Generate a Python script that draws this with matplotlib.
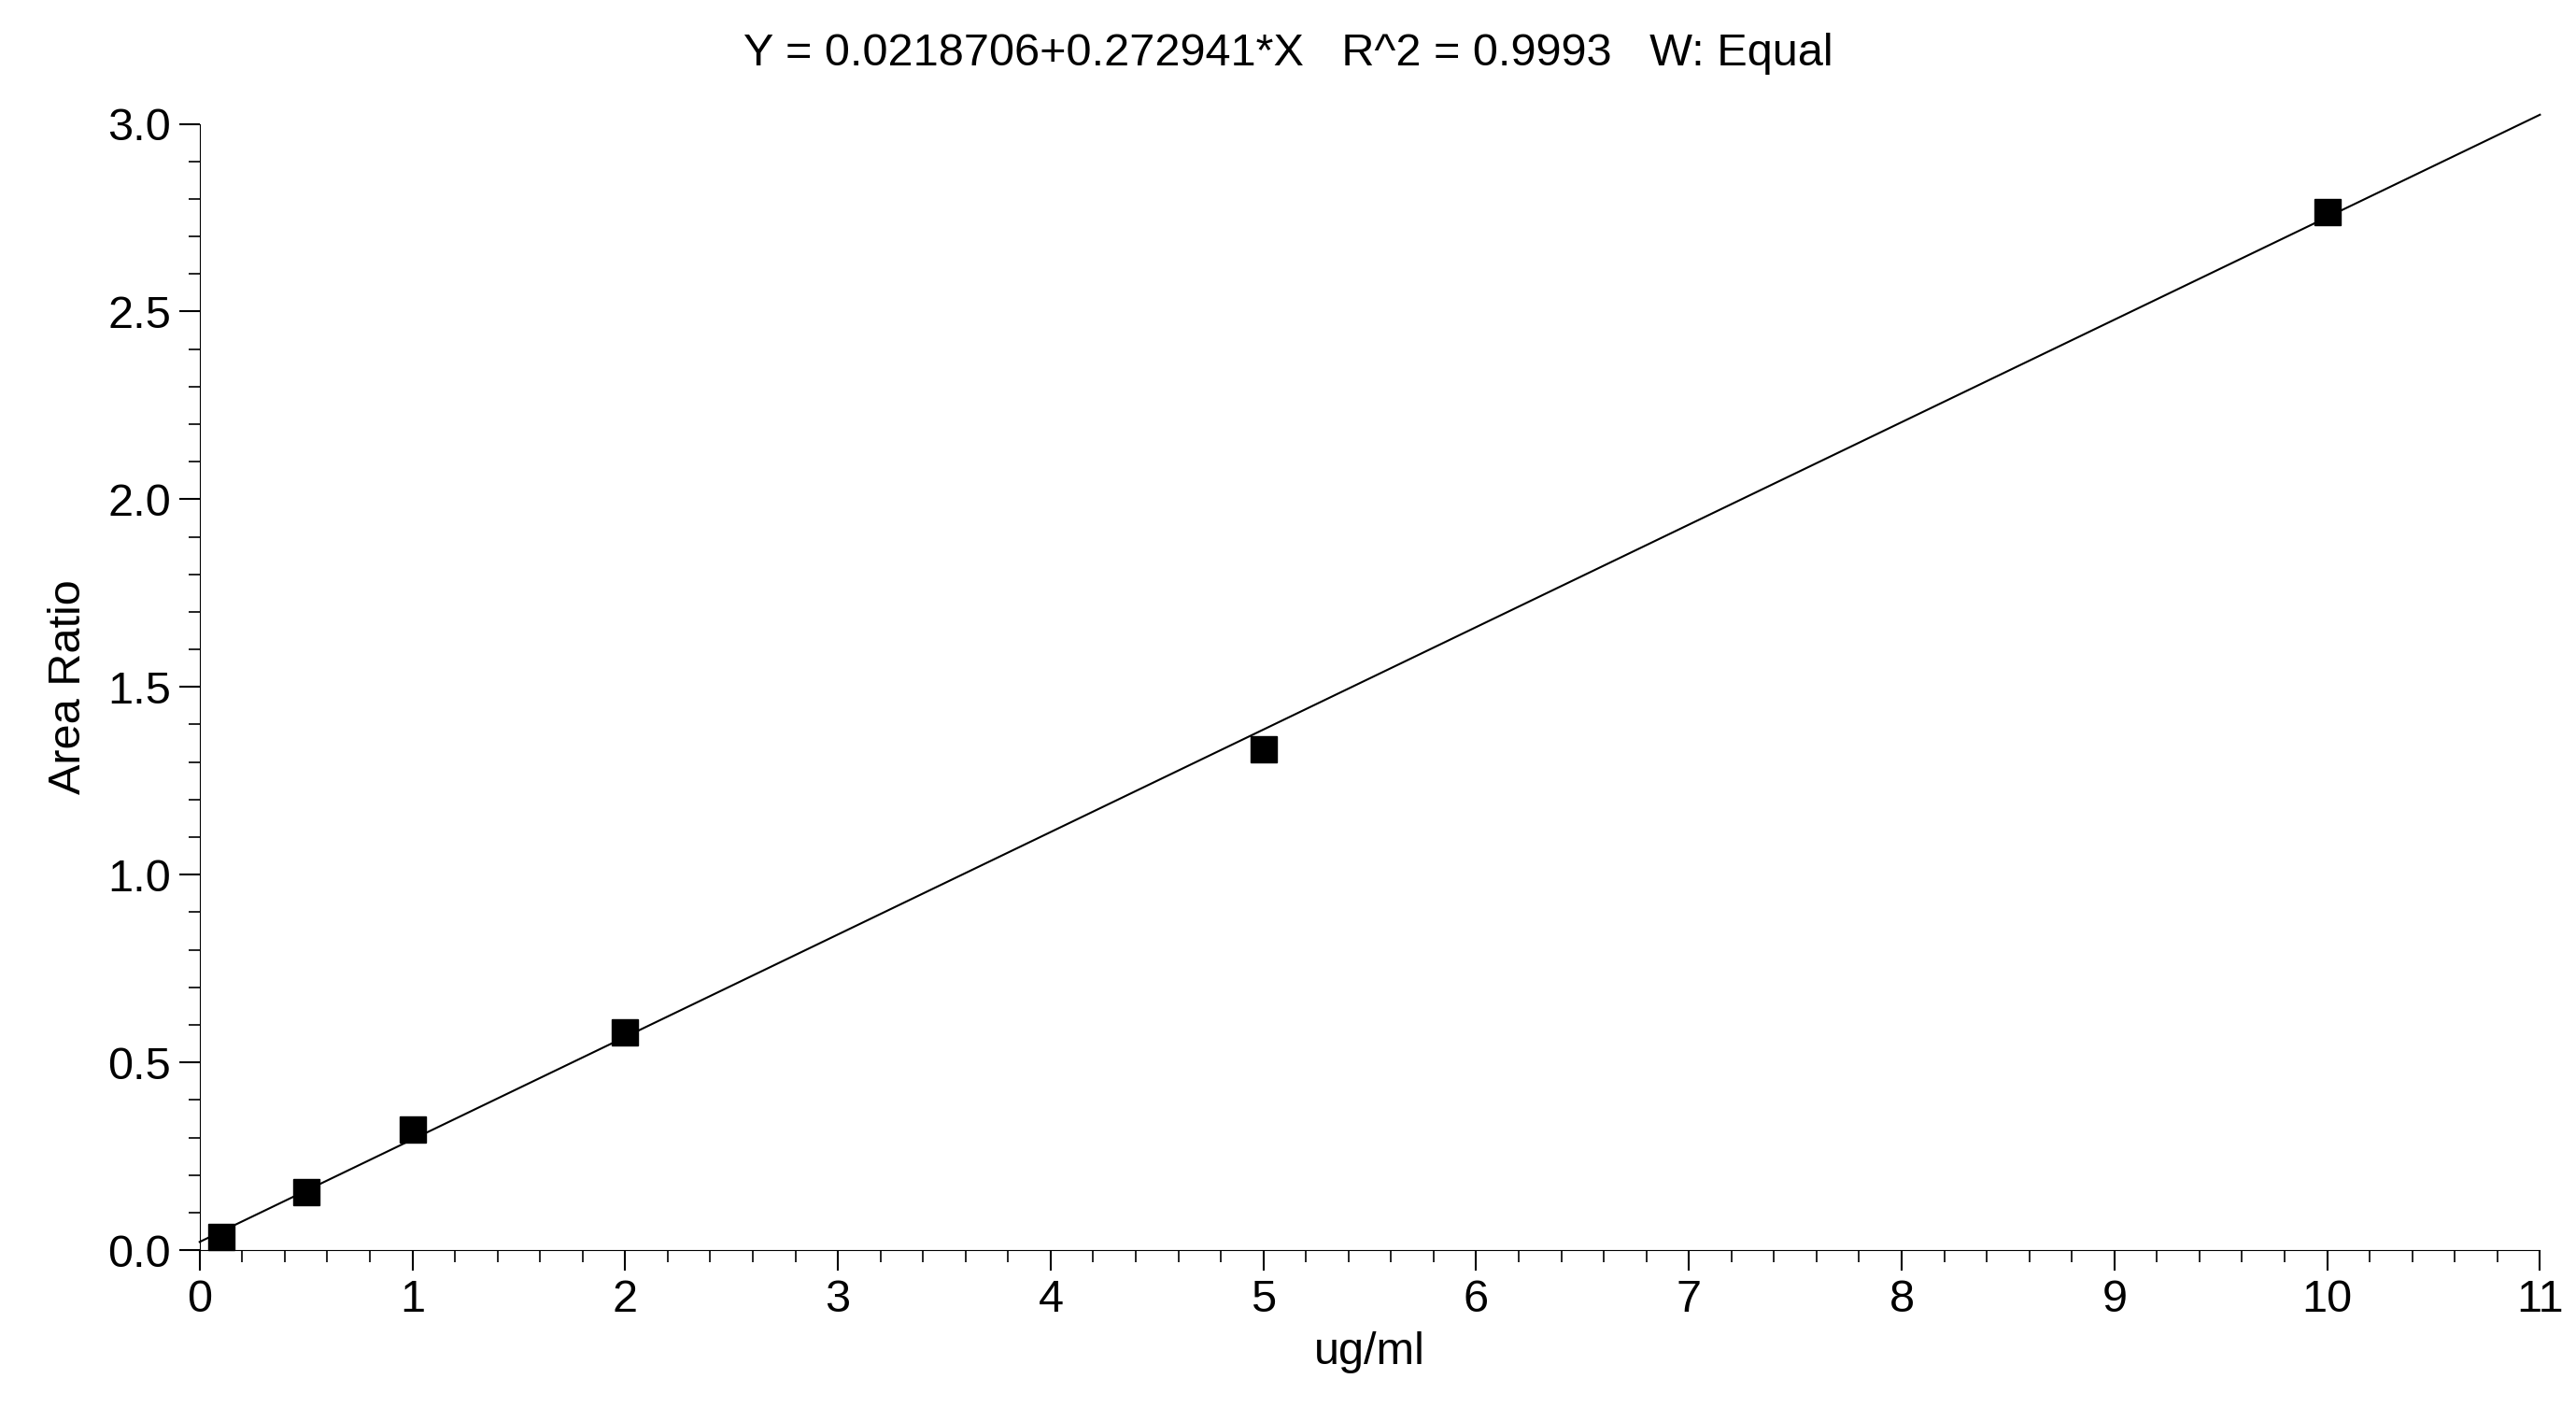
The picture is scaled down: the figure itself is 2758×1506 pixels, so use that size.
import matplotlib
matplotlib.use("Agg")
import matplotlib.pyplot as plt
import numpy as np
from matplotlib.ticker import MultipleLocator

plt.rcParams['font.family'] = ['Liberation Sans', 'DejaVu Sans']

conc = [0.1, 0.5, 1, 2, 5, 10]
ratio = [0.035, 0.155, 0.32, 0.58, 1.335, 2.765]
intercept = 0.0218706
slope = 0.272941
title = "Y = 0.0218706+0.272941*X   R^2 = 0.9993   W: Equal"

fig = plt.figure(figsize=(27.58, 15.06), dpi=100)
ax = fig.add_axes([0.0775, 0.1115, 0.9085, 0.8005])
xs = np.array([0, 11])
ax.plot(xs, intercept + slope * xs, color='black', lw=1.5, clip_on=False)
ax.plot(conc, ratio, 's', color='black', ms=20, clip_on=False, zorder=3)
ax.set_xlim(0, 11)
ax.set_ylim(0, 3.0)
ax.spines['top'].set_visible(False)
ax.spines['right'].set_visible(False)
ax.xaxis.set_major_locator(MultipleLocator(1))
ax.xaxis.set_minor_locator(MultipleLocator(0.2))
ax.yaxis.set_major_locator(MultipleLocator(0.5))
ax.yaxis.set_minor_locator(MultipleLocator(0.1))
ax.yaxis.set_major_formatter(matplotlib.ticker.FormatStrFormatter('%.1f'))
ax.tick_params(which='major', length=16, width=1.5, labelsize=35, pad=6)
ax.tick_params(which='minor', length=9, width=1.2)
ax.set_xlabel('ug/ml', fontsize=35, labelpad=8)
ax.set_ylabel('Area Ratio', fontsize=35, labelpad=14)
fig.text(0.5, 0.962, title, ha='center', va='center', fontsize=35)
fig.savefig('out.png', dpi=100)
